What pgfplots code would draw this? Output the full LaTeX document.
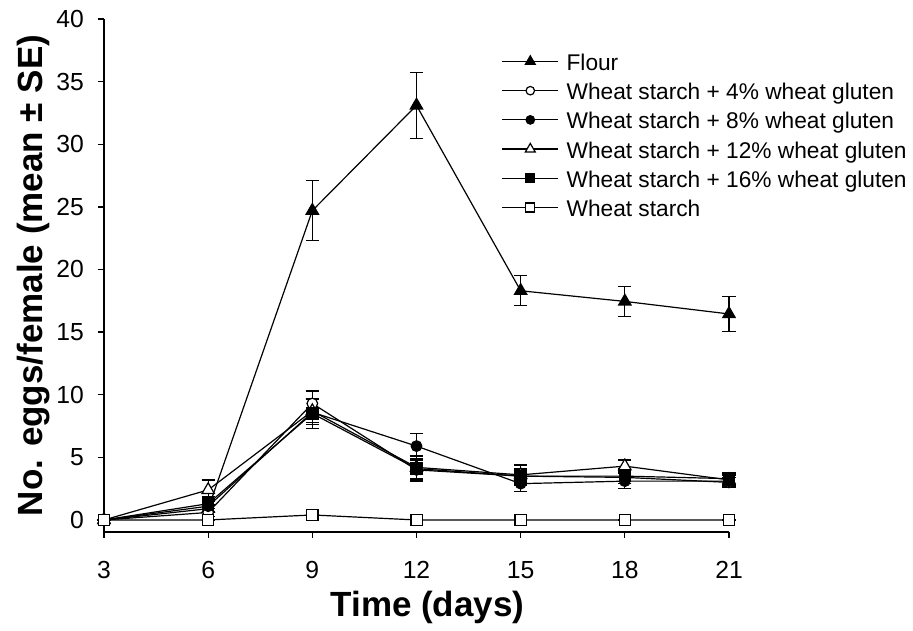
\documentclass[border=0pt]{standalone}
\usepackage{pgfplots}
\pgfplotsset{compat=1.18}
\usepackage{fontspec}
\setmainfont{Liberation Sans}
\begin{document}
\begin{tikzpicture}[x=1pt,y=1pt]
\useasboundingbox (0,0) rectangle (913,631);
\begin{axis}[
  at={(104pt,99pt)}, anchor=south west,
  scale only axis, width=625pt, height=513pt,
  xmin=3, xmax=21, ymin=-0.96, ymax=40,
  axis lines=left, axis line style={-, line width=1.3pt},
  xtick={3,6,9,12,15,18,21}, ytick={0,5,10,15,20,25,30,35,40},
  minor tick num=0,
  tick align=outside, major tick length=6pt,
  tick style={black, line width=1.3pt},
  /pgf/number format/assume math mode=true,
  ticklabel style={font=\fontsize{24.7}{28}\selectfont, inner sep=0pt},
  xticklabel style={anchor=north},
  xticklabel shift=23pt,
  yticklabel style={anchor=east},
  yticklabel shift=14pt,
  xlabel={Time (days)},
  ylabel={No. eggs/female (mean \textpm{} SE)},
  label style={font=\fontsize{35}{40}\selectfont\bfseries},
  xlabel style={at={(axis description cs:0.5176,-0.1651)}, anchor=base, inner sep=0pt},
  ylabel style={at={(axis description cs:-0.0992,0.5)}, anchor=base, inner sep=0pt},
  clip=false,
  legend style={at={(axis description cs:0.6363,0.9310)}, anchor=north west,
    draw=none, fill=none, inner sep=0pt, outer sep=0pt,
    font=\fontsize{22.7}{26}\selectfont,
    row sep=8.0pt, column sep=7.7pt,
    nodes={inner sep=0pt, text height=16.2pt, text depth=5pt},
    cells={anchor=west}},
  legend image code/.code={%
    \draw[mark repeat=2,mark phase=2,#1,every mark/.append style={scale=0.8}]
      plot coordinates {(0pt,3.5pt)(28pt,3.5pt)(56pt,3.5pt)};},
  every axis plot/.append style={black, line width=1.2pt},
  error bars/error bar style={line width=1.1pt, solid},
  error bars/error mark options={rotate=90, mark size=6.6pt, line width=1.3pt},
]
% Flour
\addplot[mark=triangle*, mark size=7.1pt, mark options={fill=black, solid},
  error bars/.cd, y dir=both, y explicit]
coordinates {(3,0) +- (0,0) (6,0.9) +- (0,0.3) (9,24.7) +- (0,2.4) (12,33.1) +- (0,2.65)
  (15,18.3) +- (0,1.2) (18,17.45) +- (0,1.2) (21,16.45) +- (0,1.4)};
\addlegendentry{Flour}
% 4%
\addplot[mark=*, mark size=5.3pt, mark options={fill=white, solid},
  error bars/.cd, y dir=both, y explicit]
coordinates {(3,0) +- (0,0) (6,0.6) +- (0,0.3) (9,9.3) +- (0,1.0) (12,4.0) +- (0,0.8)
  (15,3.5) +- (0,0.5) (18,3.4) +- (0,0.5) (21,3.0) +- (0,0.4)};
\addlegendentry{Wheat starch + 4\% wheat gluten}
% 8%
\addplot[mark=*, mark size=5.3pt, mark options={fill=black, solid},
  error bars/.cd, y dir=both, y explicit]
coordinates {(3,0) +- (0,0) (6,1.1) +- (0,0.4) (9,8.6) +- (0,1.0) (12,5.9) +- (0,1.0)
  (15,2.9) +- (0,0.6) (18,3.1) +- (0,0.6) (21,3.1) +- (0,0.5)};
\addlegendentry{Wheat starch + 8\% wheat gluten}
% 12%
\addplot[mark=triangle*, mark size=7.1pt, mark options={fill=white, solid},
  error bars/.cd, y dir=both, y explicit]
coordinates {(3,0) +- (0,0) (6,2.4) +- (0,0.8) (9,8.7) +- (0,0.9) (12,4.2) +- (0,0.9)
  (15,3.6) +- (0,0.8) (18,4.3) +- (0,0.5) (21,3.2) +- (0,0.5)};
\addlegendentry{Wheat starch + 12\% wheat gluten}
% 16%
\addplot[mark=square*, mark size=5.6pt, mark options={fill=black, solid},
  error bars/.cd, y dir=both, y explicit]
coordinates {(3,0) +- (0,0) (6,1.3) +- (0,0.6) (9,8.5) +- (0,1.2) (12,4.1) +- (0,1.0)
  (15,3.5) +- (0,0.6) (18,3.5) +- (0,0.6) (21,3.3) +- (0,0.5)};
\addlegendentry{Wheat starch + 16\% wheat gluten}
% wheat starch
\addplot[mark=square*, mark size=5.6pt, mark options={fill=white, solid},
  error bars/.cd, y dir=both, y explicit]
coordinates {(3,0) +- (0,0) (6,0) +- (0,0) (9,0.4) +- (0,0.25) (12,0) +- (0,0)
  (15,0) +- (0,0) (18,0) +- (0,0) (21,0) +- (0,0)};
\addlegendentry{Wheat starch}
\end{axis}
\end{tikzpicture}
\end{document}
